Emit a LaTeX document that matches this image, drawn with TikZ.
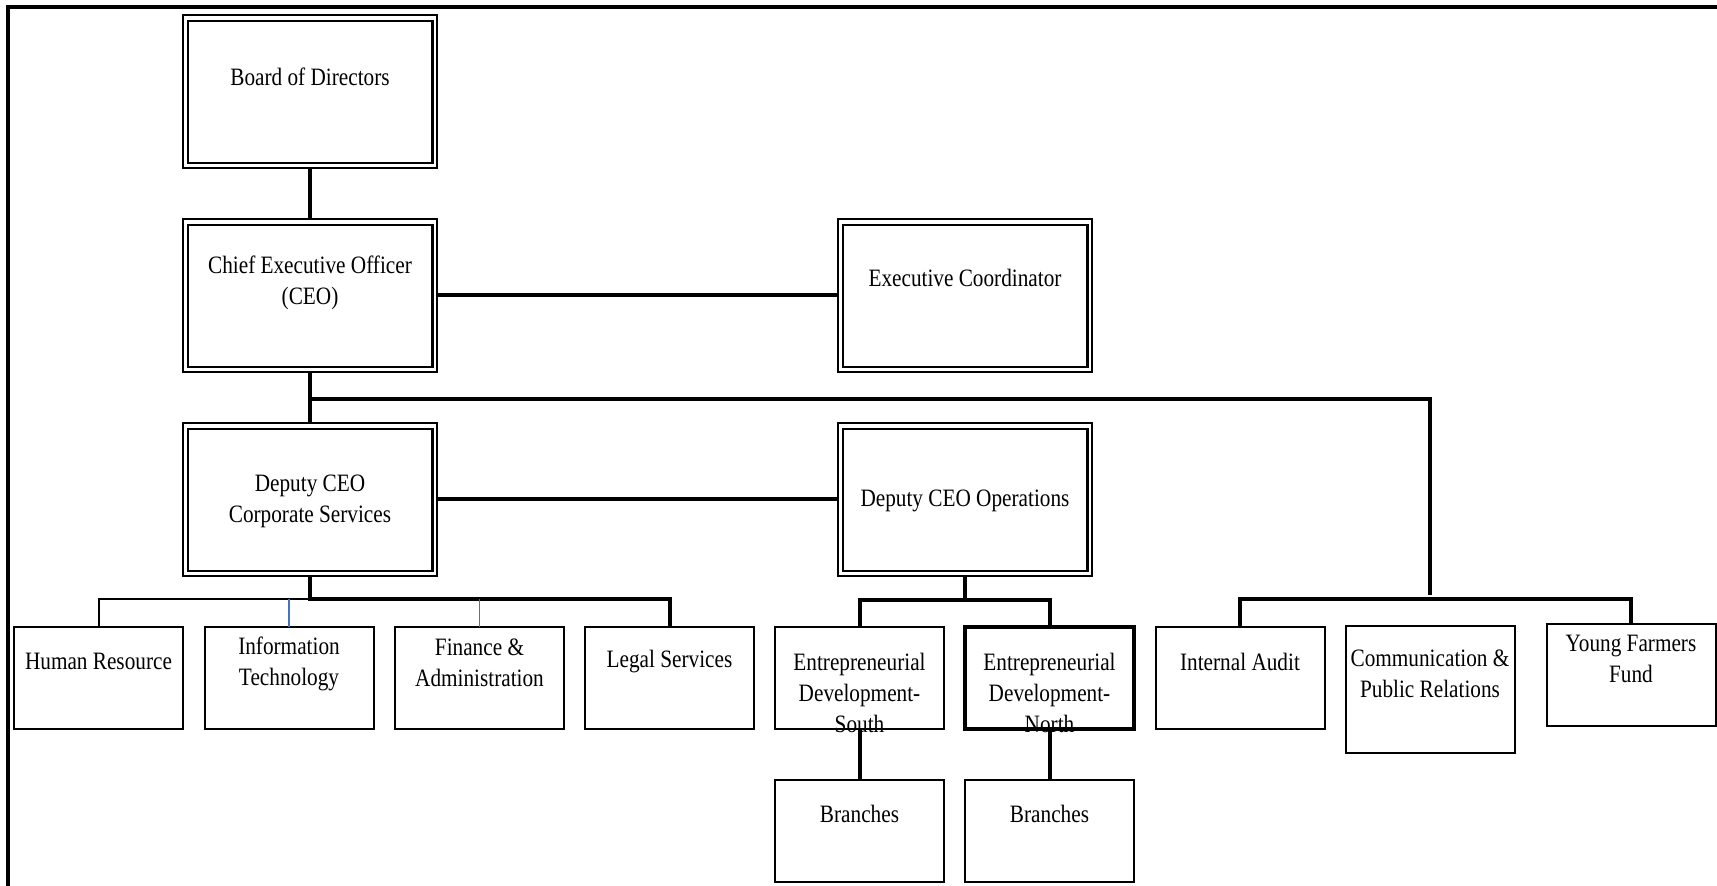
\documentclass[tikz,border=0pt]{standalone}
\usepackage{fontspec}
\setmainfont{Liberation Serif}[FakeStretch=0.85]
\definecolor{linkblue}{RGB}{68,114,196}
\begin{document}
\begin{tikzpicture}[x=0.5pt,y=-0.5pt,
  every node/.style={inner sep=0pt, outer sep=0pt},
  % double-ruled boxes of the top levels
  dbox/.style={draw, line width=0.8pt, minimum width=127pt, minimum height=76.5pt,
    path picture={\draw[line width=1.15pt]
      ([shift={(2.4pt,-3pt)}]path picture bounding box.north west) rectangle
      ([shift={(-2.2pt,2.6pt)}]path picture bounding box.south east);}},
  % single-ruled unit boxes
  ubox/.style={draw, line width=1pt, minimum width=84.5pt, minimum height=51pt},
  % labels are placed by the baseline of their last line
  lbl/.style={anchor=base, align=center, font=\fontsize{12.5}{15.5}\selectfont},
  thickc/.style={line width=2pt},
  midc/.style={line width=1.6pt},
  thinc/.style={line width=1pt},
  bluec/.style={line width=0.8pt, draw=linkblue},
  frame/.style={line width=2.1pt}
]
\useasboundingbox (0,0) rectangle (1717,886);

% page frame (top and left rules)
\draw[frame] (8,900) -- (8,7) -- (1730,7);

% top levels
\node[dbox] (board) at (310,91.5) {};
\node[dbox] (ceo)   at (310,295.5) {};
\node[dbox] (exec)  at (965,295.5) {};
\node[dbox] (dcs)   at (310,499.5) {};
\node[dbox] (dco)   at (965,499.5) {};

\node[lbl] (t-board) at (310,86)  {Board of Directors};
\node[lbl] (t-ceo)   at (310,305) {Chief Executive Officer\\(CEO)};
\node[lbl] (t-exec)  at (965,287) {Executive Coordinator};
\node[lbl] (t-dcs)   at (310,523) {Deputy CEO\\Corporate Services};
\node[lbl] (t-dco)   at (965,507) {Deputy CEO Operations};

% units
\node[ubox] (hr)  at (98.5,678)  {};
\node[ubox] (it)  at (289,678)   {};
\node[ubox] (fa)  at (479.5,678) {};
\node[ubox] (ls)  at (669.5,678) {};
\node[ubox] (eds) at (859.5,678) {};
\node[ubox, line width=2pt] (edn) at (1049.5,678) {};
\node[ubox] (ia)  at (1240,678)  {};
\node[ubox, minimum height=63.5pt] (cpr) at (1430,689.5) {};
\node[ubox] (yff) at (1631,675)  {};
\node[ubox] (brs) at (859.5,830.5)  {};
\node[ubox] (brn) at (1049.5,830.5) {};

\node[lbl] (t-hr)  at (98.5,669)  {Human Resource};
\node[lbl] (t-it)  at (289,685)   {Information\\Technology};
\node[lbl] (t-fa)  at (479.5,686) {Finance \&\\Administration};
\node[lbl] (t-ls)  at (669.5,668) {Legal Services};
\node[lbl] (t-eds) at (859.5,732) {Entrepreneurial\\Development-\\South};
\node[lbl] (t-edn) at (1049.5,732) {Entrepreneurial\\Development-\\North};
\node[lbl] (t-ia)  at (1240,670)  {Internal Audit};
\node[lbl] (t-cpr) at (1430,697)  {Communication \&\\Public Relations};
\node[lbl] (t-yff) at (1631,682)  {Young Farmers\\Fund};
\node[lbl] (t-brs) at (859.5,822)  {Branches};
\node[lbl] (t-brn) at (1049.5,822) {Branches};

% junction points
\coordinate (topbar) at (310,399);
\coordinate (rdrop)  at (1430,595);
\coordinate (csbar)  at (310,599);
\coordinate (opbar)  at (965,600);
\coordinate (rbar)   at (1430,599);

% connectors
\draw[thickc] (board) -- (ceo);
\draw[thickc] (ceo) -- (exec);
\draw[midc] (ceo.south) -- (dcs.north);
\draw[midc] (topbar) -| (rdrop);
\draw[thickc] (dcs) -- (dco);

\draw[thickc] (dcs.south) -- (csbar) -| (ls.north);
\draw[thinc] (csbar) -| (hr.north);
\draw[bluec] (it.north) -- (it.north |- csbar);
\draw[bluec] (fa.north) -- (fa.north |- csbar);

\draw[thickc] (dco.south) -- (opbar);
\draw[thickc] (eds.north) -- (eds.north |- opbar) -- (edn.north |- opbar) -- (edn.north);
\draw[thickc] (eds) -- (brs);
\draw[thickc] (edn) -- (brn);

\draw[thickc] (ia.north) -- (ia.north |- rbar) -- (yff.north |- rbar) -- (yff.north);
\end{tikzpicture}
\end{document}
